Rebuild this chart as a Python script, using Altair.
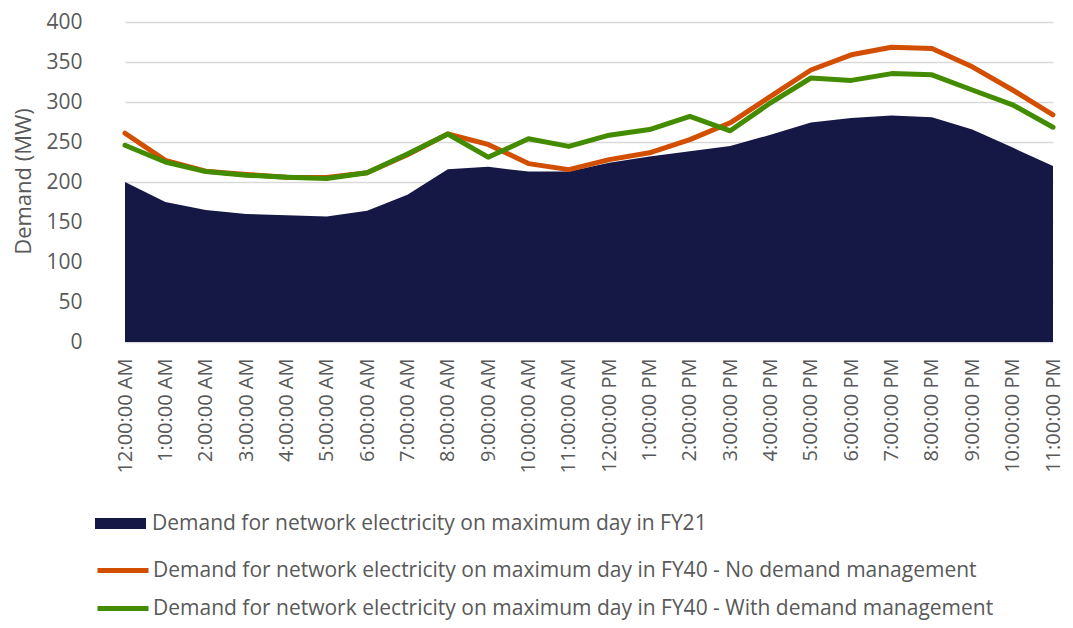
import altair as alt
import pandas as pd

hours = ["12:00:00 AM", "1:00:00 AM", "2:00:00 AM", "3:00:00 AM", "4:00:00 AM", "5:00:00 AM",
         "6:00:00 AM", "7:00:00 AM", "8:00:00 AM", "9:00:00 AM", "10:00:00 AM", "11:00:00 AM",
         "12:00:00 PM", "1:00:00 PM", "2:00:00 PM", "3:00:00 PM", "4:00:00 PM", "5:00:00 PM",
         "6:00:00 PM", "7:00:00 PM", "8:00:00 PM", "9:00:00 PM", "10:00:00 PM", "11:00:00 PM"]

fy21 = [200, 175, 165, 160, 158.5, 157, 164, 184, 216, 219, 213, 213,
        224, 232, 238.5, 245, 259, 274.5, 280, 283, 281, 265.5, 243, 220]
fy40_no_dm = [261, 227, 213.5, 209.5, 206, 205.5, 211.5, 234, 260, 247, 223, 215.5,
              228, 236.5, 253, 274, 307, 340, 359, 368.5, 367, 344, 315, 284]
fy40_dm = [246, 225, 213, 208.5, 206, 204.5, 211.5, 235, 260, 231, 254, 244.5,
           258.5, 265.5, 282, 264, 299, 330, 327, 335.5, 334, 315, 296.5, 268.5]

s_fy21 = "Demand for network electricity on maximum day in FY21"
s_no = "Demand for network electricity on maximum day in FY40 - No demand management"
s_dm = "Demand for network electricity on maximum day in FY40 - With demand management"

area_df = pd.DataFrame({"hour": hours, "mw": fy21, "series": s_fy21})
line_df = pd.concat([
    pd.DataFrame({"hour": hours, "mw": fy40_no_dm, "series": s_no}),
    pd.DataFrame({"hour": hours, "mw": fy40_dm, "series": s_dm}),
], ignore_index=True)

GRAY = "#595959"
FONT = "Open Sans"

x_enc = alt.X(
    "hour:O", sort=hours,
    scale=alt.Scale(type="point", range=[21, 949], padding=0),
    axis=alt.Axis(title=None, labelAngle=270, labelAlign="right", labelBaseline="middle",
                  labelPadding=16, ticks=False, tickSize=0, domain=False, grid=False,
                  labelFont=FONT, labelFontSize=20, labelColor=GRAY, labelOverlap=False),
)
y_enc = alt.Y(
    "mw:Q",
    scale=alt.Scale(domain=[0, 400], nice=False),
    axis=alt.Axis(values=list(range(0, 401, 50)), title="Demand (MW)", domain=False, ticks=False,
                  labelPadding=22, labelFont=FONT, labelFontSize=21, labelColor=GRAY,
                  gridColor="#D9D9D9", gridWidth=1.5,
                  titleFont=FONT, titleFontSize=22, titleColor=GRAY, titleFontWeight="normal",
                  titleX=-74, titleY=159, titleAngle=270, titleAlign="center",
                  titleBaseline="alphabetic"),
)

area = alt.Chart(area_df).mark_area(opacity=1).encode(
    x=x_enc, y=y_enc,
    fill=alt.Fill("series:N", scale=alt.Scale(domain=[s_fy21], range=["#151744"]),
                  legend=alt.Legend(orient="none", legendX=-9, legendY=476, title=None,
                                    symbolType="M-1,-0.22L1,-0.22L1,0.22L-1,0.22Z",
                                    symbolSize=2601, symbolStrokeWidth=0, symbolOpacity=1,
                                    labelFont=FONT, labelFontSize=21, labelColor=GRAY,
                                    labelLimit=1000, labelOffset=6, padding=0)),
)

lines = alt.Chart(line_df).mark_line(strokeWidth=5, strokeJoin="round", strokeCap="round").encode(
    x=x_enc, y=y_enc,
    color=alt.Color("series:N", sort=[s_no, s_dm],
                    scale=alt.Scale(domain=[s_no, s_dm], range=["#D24E00", "#438C00"]),
                    legend=alt.Legend(orient="none", legendX=-9, legendY=520.5, title=None,
                                      symbolType="stroke", symbolSize=2601, symbolStrokeWidth=5,
                                      rowPadding=-6,
                                      labelFont=FONT, labelFontSize=21, labelColor=GRAY,
                                      labelLimit=1000, labelOffset=2, padding=0)),
)

chart = alt.layer(area, lines).resolve_legend(fill="independent", color="independent").properties(
    width=961, height=320,
    padding={"left": 96, "top": 14, "right": 0, "bottom": 278},
    autosize=alt.AutoSizeParams(type="none"),
).configure_view(stroke=None)

chart.save("out.html", embed_options={"renderer": "svg", "actions": False})
